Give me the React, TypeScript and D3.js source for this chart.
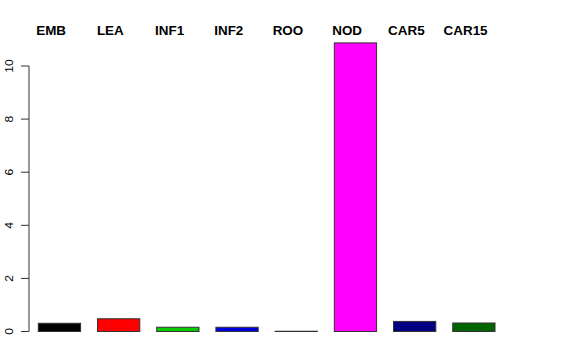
import React from "react";
import * as d3 from "d3";

const categories = ["EMB", "LEA", "INF1", "INF2", "ROO", "NOD", "CAR5", "CAR15"];
const values = [0.31, 0.48, 0.16, 0.16, 0.01, 10.87, 0.38, 0.32];
const colors = ["#000000", "#FF0000", "#00CD00", "#0000DD", "#BEBEBE", "#FF00FF", "#000080", "#006400"];
const yTicks = [0, 2, 4, 6, 8, 10];

const W = 576;
const H = 360;

export default function App() {
  const y = d3.scaleLinear().domain([0, 10]).range([331.5, 66]);
  const x = d3
    .scaleBand<string>()
    .domain(categories)
    .range([38.3, 38.3 + 7 * 59.2 + 42.3])
    .paddingInner(0.4 / 1.4)
    .paddingOuter(0);
  const font = "'Liberation Sans', Arial, Helvetica, sans-serif";
  return (
    <svg width={W} height={H} style={{ position: "absolute", left: 0, top: 0 }} fontFamily={font}>
      <rect x={0} y={0} width={W} height={H} fill="#fff" />
      {categories.map((c, i) => (
        <rect
          key={c}
          x={x(c)}
          y={y(values[i])}
          width={x.bandwidth()}
          height={y(0) - y(values[i])}
          fill={colors[i]}
          stroke="#333"
          strokeWidth={1}
        />
      ))}
      {categories.map((c) => (
        <text
          key={"l" + c}
          transform={`translate(${(x(c) as number) + x.bandwidth() / 2 - 8.3},34.5) scale(1.12,1)`}
          textAnchor="middle"
          fontSize={12}
          fontWeight="bold"
          fill="#000"
        >
          {c}
        </text>
      ))}
      <line x1={29} x2={29} y1={y(0)} y2={y(10)} stroke="#333" strokeWidth={1} />
      {yTicks.map((t) => (
        <g key={t}>
          <line x1={21} x2={29} y1={y(t)} y2={y(t)} stroke="#333" strokeWidth={1} />
          <text
            transform={`translate(12.5,${y(t)}) rotate(-90) scale(1.1,1)`}
            textAnchor="middle"
            fontSize={11}
            fill="#000"
          >
            {t}
          </text>
        </g>
      ))}
    </svg>
  );
}
